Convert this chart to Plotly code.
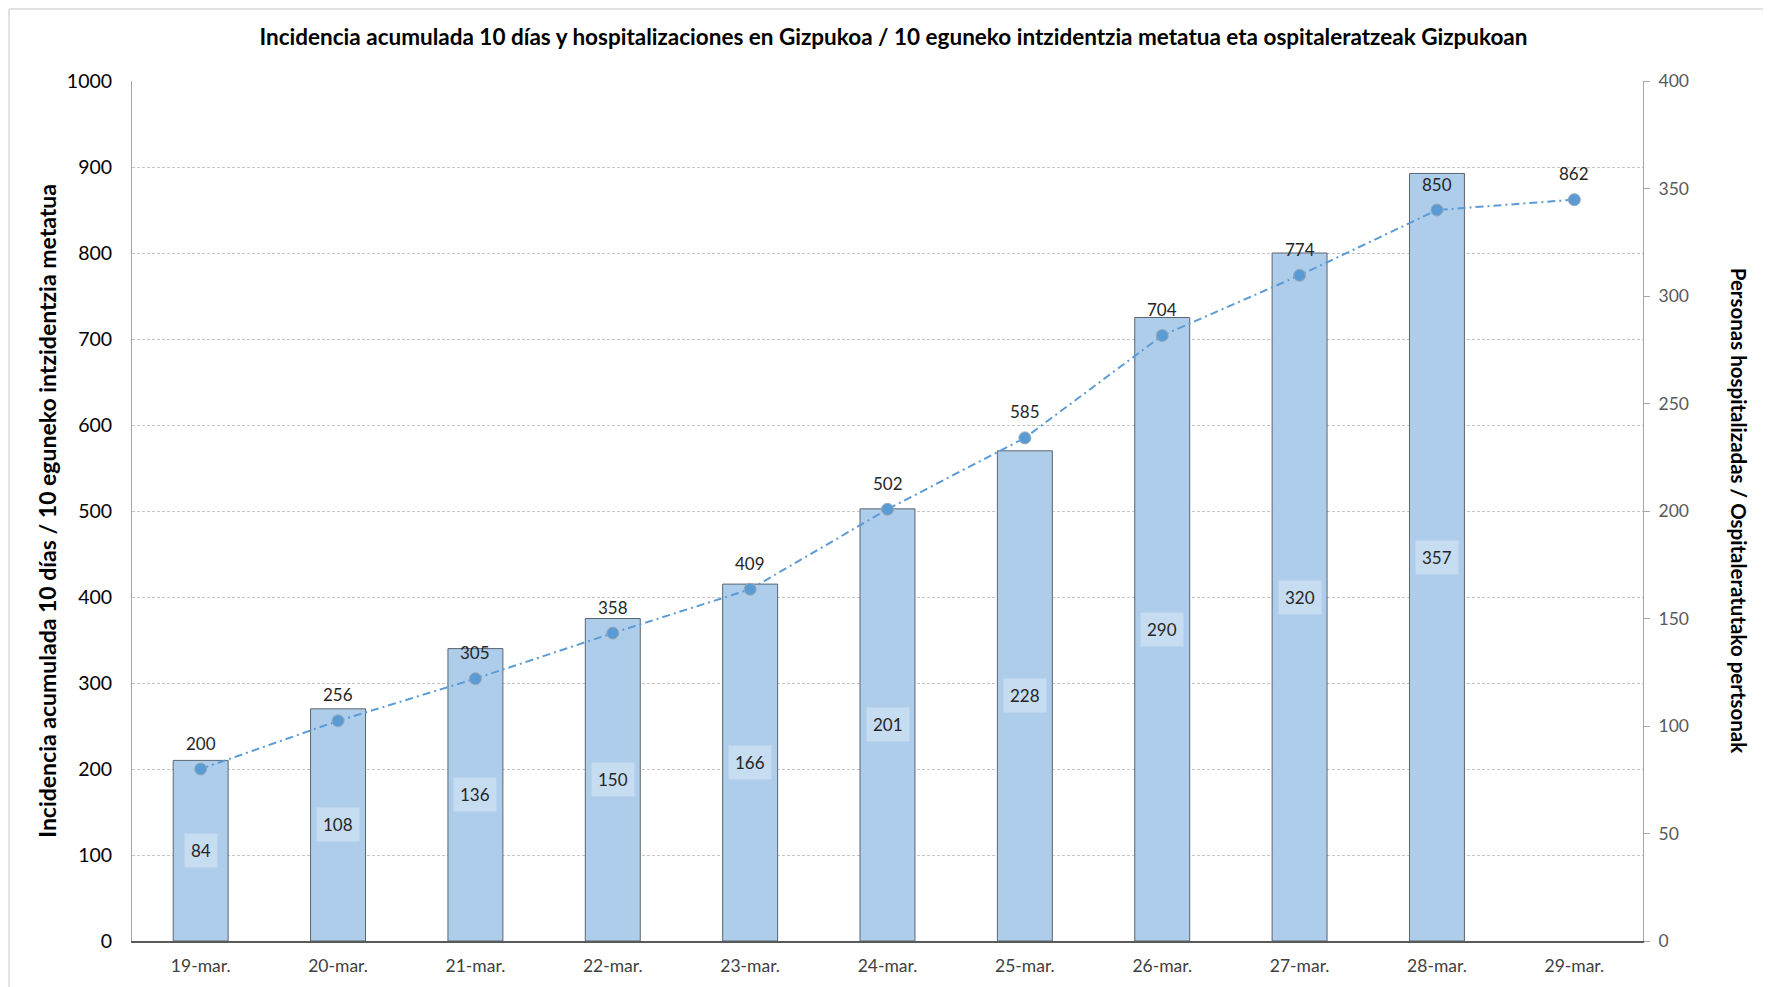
import plotly.graph_objects as go

dates = ["19-mar.", "20-mar.", "21-mar.", "22-mar.", "23-mar.", "24-mar.",
         "25-mar.", "26-mar.", "27-mar.", "28-mar.", "29-mar."]
hospitalized = [84, 108, 136, 150, 166, 201, 228, 290, 320, 357]
incidence = [200, 256, 305, 358, 409, 502, 585, 704, 774, 850, 862]

left_ticks = list(range(0, 1001, 100))
right_ticks = list(range(0, 401, 50))

FONT = "Lato, 'Open Sans', sans-serif"

fig = go.Figure()

# bars on the (right-side) primary axis so the line is drawn above them
fig.add_trace(
    go.Bar(
        x=dates[:len(hospitalized)],
        y=hospitalized,
        width=0.4,
        marker=dict(color="#AECDEA", line=dict(color="#5A6570", width=1)),
        yaxis="y",
        hoverinfo="skip",
        showlegend=False
    )
)

fig.add_trace(
    go.Scatter(
        x=dates,
        y=incidence,
        mode="lines+markers",
        line=dict(color="#5B9BD5", width=2, dash="8px,4px,2px,4px"),
        marker=dict(size=12, color="#5B9BD5", line=dict(color="#9AA8B5", width=1)),
        yaxis="y2",
        cliponaxis=False,
        showlegend=False
    )
)

annotations = []
for d, v in zip(dates, hospitalized):
    annotations.append(dict(
        x=d, y=v / 2, xref="x", yref="y",
        text=str(v), showarrow=False,
        font=dict(size=17, color="#262626", family=FONT),
        bgcolor="rgba(255,255,255,0.3)",
        borderpad=6
    ))

for d, v in zip(dates, incidence):
    annotations.append(dict(
        x=d, y=v, xref="x", yref="y2",
        text=str(v), showarrow=False, yshift=26,
        font=dict(size=17, color="#262626", family=FONT)
    ))

annotations.append(dict(
    x=-0.067, y=0.5, xref="paper", yref="paper",
    text="<b>Incidencia acumulada 10 días / 10 eguneko intzidentzia metatua</b>",
    textangle=-90, showarrow=False,
    font=dict(size=23, color="#000000", family=FONT)
))
annotations.append(dict(
    x=1.073, y=0.5, xref="paper", yref="paper",
    text="<b>Personas hospitalizadas / Ospitaleratutako pertsonak</b>",
    textangle=90, showarrow=False,
    font=dict(size=20.5, color="#000000", family=FONT)
))

fig.update_layout(
    width=1771,
    height=987,
    paper_bgcolor="white",
    plot_bgcolor="white",
    margin=dict(l=124, r=136, t=73, b=54),
    font=dict(family=FONT, color="#404040"),
    title=dict(
        text="<b>Incidencia acumulada 10 días y hospitalizaciones en Gizpukoa / 10 eguneko intzidentzia metatua eta ospitaleratzeak Gizpukoan</b>",
        x=0.5, xanchor="center", y=0.97, yanchor="middle",
        font=dict(size=22.5, color="#000000", family=FONT)
    ),
    xaxis=dict(
        type="category",
        categoryorder="array",
        categoryarray=dates,
        range=[-0.5, len(dates) - 0.5],
        showgrid=False,
        showline=True,
        linecolor="#595959",
        linewidth=1.5,
        ticks="",
        tickfont=dict(size=17.5, color="#404040"),
        ticklabelstandoff=8
    ),
    yaxis=dict(
        side="right",
        range=[0, 400],
        tickvals=right_ticks,
        showgrid=False,
        showline=True,
        linecolor="#A6A6A6",
        ticks="outside",
        ticklen=6,
        tickcolor="#A6A6A6",
        ticklabelstandoff=5,
        tickfont=dict(size=17.5, color="#595959"),
        zeroline=False
    ),
    yaxis2=dict(
        overlaying="y",
        side="left",
        range=[0, 1000],
        tickvals=left_ticks,
        showgrid=True,
        gridcolor="#C4C4C4",
        griddash="3px,2px",
        gridwidth=1,
        showline=True,
        linecolor="#A6A6A6",
        ticks="",
        ticklabelstandoff=15,
        tickfont=dict(size=19.5, color="#000000"),
        zeroline=False
    ),
    annotations=annotations,
    bargap=0.6,
    shapes=[
        dict(type="line", xref="paper", yref="paper", x0=-0.0814, x1=1.2, y0=1.0837, y1=1.0837,
             line=dict(color="#D9D9D9", width=1.5)),
        dict(type="line", xref="paper", yref="paper", x0=-0.0814, x1=-0.0814, y0=-0.1, y1=1.0837,
             line=dict(color="#D9D9D9", width=1.5)),
    ]
)

fig.write_html("out.html")
